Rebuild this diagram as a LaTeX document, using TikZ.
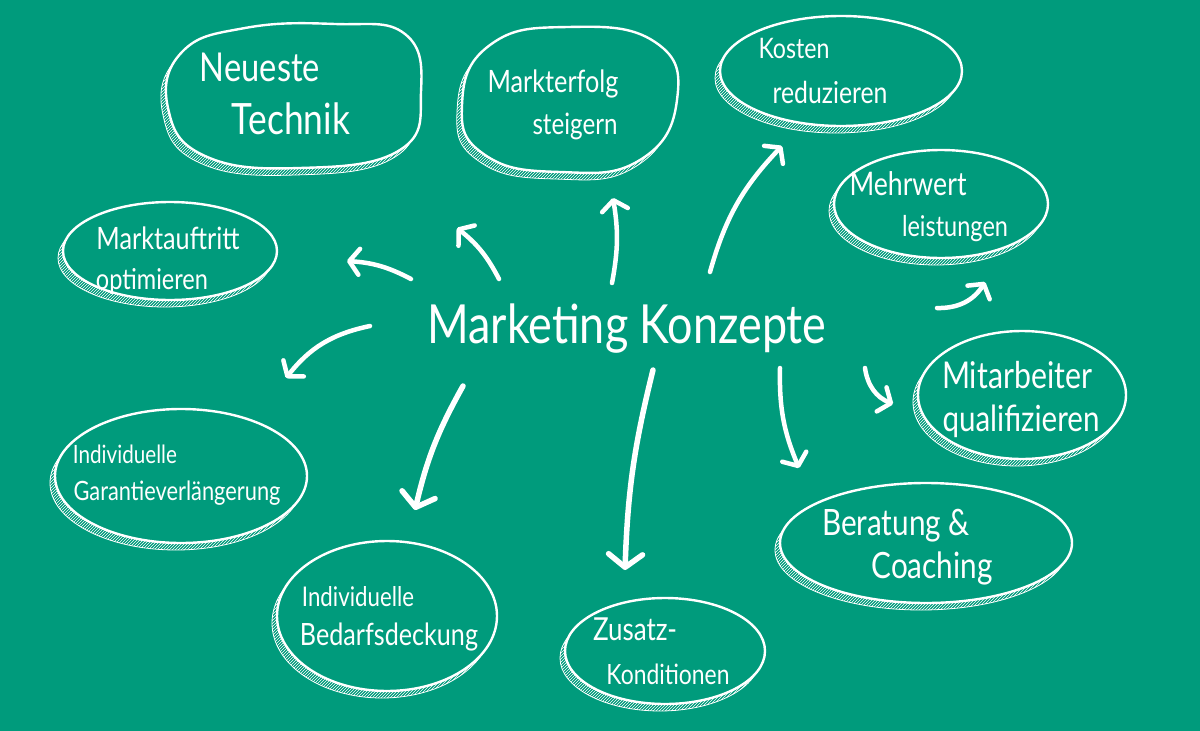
\documentclass[tikz,border=0pt]{standalone}
\usepackage{fontspec}
\setmainfont{Lato}
\usetikzlibrary{arrows.meta,patterns}
\definecolor{bg}{RGB}{0,155,124}
\newcommand\blob[1]{%
 \begin{scope}[shift={(-5,7)}]
  \clip #1;
  \begin{scope}[shift={(5,-7)}]
   \fill[pattern=north east lines, pattern color=white, even odd rule] (-100,-100) rectangle (1300,831) #1;
  \end{scope}
 \end{scope}
 \begin{scope}[even odd rule]
  \clip (-100,-100) rectangle (1300,831) #1;
  \begin{scope}[shift={(-5,7)}]
   \draw[white, line width=0.8pt] #1;
  \end{scope}
 \end{scope}
 \draw[white, line width=2.4pt] #1;
}
\newcommand\lbl[4]{\node[txt] (#1) at (#2) {\resizebox{#3pt}{!}{\scalebox{1}[1.22]{\strut #4}}};}
\begin{document}
\begin{tikzpicture}[x=1pt,y=-1pt,
  txt/.style={text=white, inner sep=0pt},
  arrowline/.style={white, line width=4.5pt, line cap=round, -{Straight Barb[length=10pt,width=26pt,round]}},
  bigarrow/.style={white, line width=5.5pt, line cap=round, -{Straight Barb[length=13pt,width=34pt,round]}}]
\useasboundingbox (0,0) rectangle (1200,731);
\fill[bg] (0,0) rectangle (1200,731);

% blobs
\blob{plot[smooth cycle, tension=0.75] coordinates {(168,108) (182,52) (245,28) (335,24) (405,34) (421,92) (400,150) (300,168) (205,156)}}
\blob{plot[smooth cycle, tension=0.8] coordinates {(462,105) (490,45) (568,27) (655,42) (677,100) (640,160) (560,172) (485,155)}}
\blob{(841,71) ellipse [x radius=121pt, y radius=55pt]}
\blob{(941,204) ellipse [x radius=107pt, y radius=54pt]}
\blob{(170,251) ellipse [x radius=107pt, y radius=49pt]}
\blob{(1022,395) ellipse [x radius=104pt, y radius=64pt]}
\blob{(181,476) ellipse [x radius=126pt, y radius=67pt]}
\blob{(926,543) ellipse [x radius=146pt, y radius=60pt]}
\blob{(387,616) ellipse [x radius=110pt, y radius=75pt]}
\blob{(665,651) ellipse [x radius=100pt, y radius=53pt]}

% labels
\node[txt] (main) at (627,329) {\resizebox{399pt}{!}{\scalebox{1}[1.2]{Marketing Konzepte}}};
\lbl{n1a}{260,72}{120}{Neueste}
\lbl{n1b}{291,124}{118}{Technik}
\lbl{n2a}{553,85}{131}{Markterfolg}
\lbl{n2b}{575,127}{85}{steigern}
\lbl{n3a}{794,52}{71}{Kosten}
\lbl{n3b}{830,96}{115}{reduzieren}
\lbl{n4a}{908,188}{117}{Mehrwert}
\lbl{n4b}{955,230}{106}{leistungen}
\lbl{n5a}{168,242}{143}{Marktauftritt}
\lbl{n5b}{152,283}{112}{optimieren}
\lbl{n6a}{1017,380}{150}{Mitarbeiter}
\lbl{n6b}{1021,423}{157}{qualifizieren}
\lbl{n7a}{125,457}{104}{Individuelle}
\lbl{n7b}{177,494}{207}{Garantieverlängerung}
\lbl{n8a}{896,527}{148}{Beratung \&}
\lbl{n8b}{932,570}{121}{Coaching}
\lbl{n9a}{358,600}{112}{Individuelle}
\lbl{n9b}{389,638}{178}{Bedarfsdeckung}
\lbl{n10a}{635,633}{84}{Zusatz-}
\lbl{n10b}{668,678}{123}{Konditionen}

% arrow end points
\coordinate (t1) at (411,279); \coordinate (h1) at (347,261);
\coordinate (t2) at (499,279); \coordinate (h2) at (457,228);
\coordinate (t3) at (612,283); \coordinate (h3) at (613,198);
\coordinate (t4) at (710,272); \coordinate (h4) at (782,146);
\coordinate (t5) at (937,308); \coordinate (h5) at (985,282);
\coordinate (t6) at (865,368); \coordinate (h6) at (893,404);
\coordinate (t7) at (370,326); \coordinate (h7) at (286,378);
\coordinate (t8) at (463,386); \coordinate (h8) at (415,510);
\coordinate (t9) at (653,370); \coordinate (h9) at (625,570);
\coordinate (t10) at (780,368); \coordinate (h10) at (799,468);

\draw[arrowline] (t1) to[bend right=12] (h1);
\draw[arrowline] (t2) to[bend right=12] (h2);
\draw[arrowline] (t3) to[bend right=10] (h3);
\draw[arrowline] (t4) to[bend left=14] (h4);
\draw[arrowline] (t5) to[bend right=30] (h5);
\draw[arrowline] (t6) to[bend right=30] (h6);
\draw[arrowline] (t7) to[bend right=20] (h7);
\draw[bigarrow] (t8) to[bend right=8] (h8);
\draw[bigarrow] (t9) to[bend right=6] (h9);
\draw[arrowline] (t10) to[bend right=12] (h10);
\end{tikzpicture}
\end{document}
